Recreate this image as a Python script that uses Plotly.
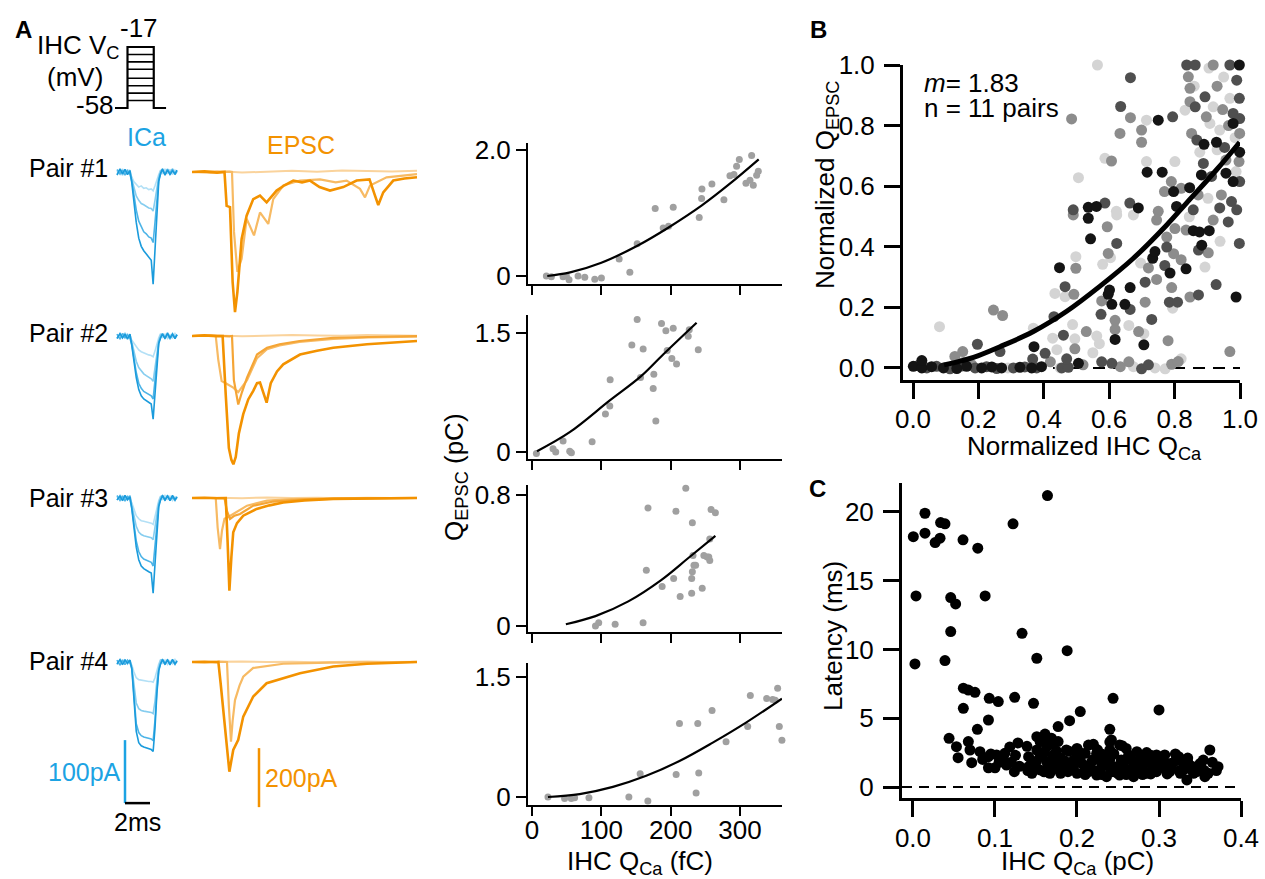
import plotly.graph_objects as go

W, H = 1265, 879
FONT = "Liberation Sans, Arial, Helvetica, sans-serif"

# ======================= DATA =======================
# Voltage protocol (ms, mV)
PROTO_T_ON, PROTO_T_OFF, PROTO_T_END = 1.0, 3.1, 4.1
PROTO_HOLD = -58
PROTO_LEVELS = [-17, -22, -27, -32, -38, -43, -48, -53]

# ICa traces (time in ms, current in pA); 4 traces per pair, light -> dark
ICA_T = [0.16, 0.4, 0.6, 0.8, 1.0, 1.2, 1.35, 1.5, 1.7, 1.9, 2.1, 2.3, 2.5, 2.7,
         2.9, 3.05, 3.2, 3.35, 3.5, 3.65, 3.8, 4.0, 4.2, 4.4, 4.6, 4.8, 4.96]
ICA_P1 = [
    [2, -4, 5, -3, 4, -2, -8, -15, -20, -24, -22, -26, -25, -28, -27, -30, -22, -12, -4, 3, -2, 5, -3, 4, -4, 3, 0],
    [-3, 4, -5, 3, -2, 3, -12, -25, -38, -45, -50, -52, -55, -57, -58, -62, -45, -25, -8, 2, 4, -3, 5, -4, 3, -3, 2],
    [4, -3, 3, -5, 2, -4, -15, -35, -60, -78, -88, -95, -98, -103, -105, -112, -80, -40, -12, -3, 3, -4, 4, -2, 5, -4, 1],
    [-5, 5, -3, 4, -4, 2, -18, -45, -80, -105, -118, -125, -130, -135, -140, -178, -120, -55, -15, -2, 5, -5, 3, -4, 2, -3, 3],
]
ICA_P2 = [
    [3, -4, 4, -2, 3, -3, -6, -12, -18, -22, -25, -27, -28, -30, -31, -33, -24, -12, -3, 4, -2, 3, -4, 2, -3, 4, 0],
    [-4, 3, -2, 5, -3, 2, -10, -25, -40, -50, -56, -60, -63, -66, -68, -72, -52, -28, -8, 2, 3, -4, 2, -3, 4, -2, 1],
    [3, -5, 4, -3, 2, -4, -14, -35, -58, -75, -83, -88, -90, -93, -95, -100, -72, -38, -10, -2, 4, -3, 3, -5, 2, -3, 2],
    [-4, 4, -3, 3, -5, 3, -16, -40, -66, -85, -95, -100, -103, -106, -108, -132, -90, -45, -12, -3, 3, -4, 5, -3, 3, -4, 2],
]
ICA_P3 = [
    [2, -3, 4, -4, 3, -2, -8, -18, -28, -33, -36, -37, -38, -39, -40, -42, -30, -15, -4, 3, -3, 4, -2, 3, -4, 2, 0],
    [-3, 4, -3, 3, -2, 4, -12, -28, -45, -54, -58, -60, -61, -62, -63, -66, -48, -25, -7, 2, 4, -3, 3, -4, 3, -2, 1],
    [4, -4, 3, -5, 3, -3, -16, -40, -68, -85, -93, -97, -99, -101, -102, -108, -78, -40, -11, -2, 3, -4, 4, -3, 2, -4, 2],
    [-3, 3, -4, 4, -3, 2, -18, -46, -78, -98, -108, -112, -115, -117, -119, -151, -105, -50, -14, -3, 4, -3, 3, -4, 4, -3, 1],
]
ICA_P4 = [
    [3, -4, 4, -3, 2, -3, -5, -15, -25, -28, -29, -30, -30, -31, -31, -32, -25, -12, -3, 4, -3, 3, -4, 2, -3, 4, 0],
    [-4, 3, -3, 4, -3, 3, -8, -35, -65, -74, -77, -78, -79, -80, -80, -82, -62, -30, -8, 3, 4, -3, 2, -4, 3, -2, 1],
    [3, -5, 3, -4, 3, -2, -10, -50, -98, -112, -117, -119, -120, -121, -122, -125, -92, -45, -12, -2, 3, -4, 4, -3, 2, -4, 2],
    [-3, 4, -4, 3, -2, 3, -12, -55, -110, -128, -133, -135, -136, -138, -139, -142, -105, -50, -14, -3, 4, -3, 3, -4, 4, -3, 1],
]

# EPSC traces (time in ms, current in pA)
FLAT_T = [0, 2, 4, 6, 8, 10, 12, 14, 16, 18]
P1_F_V = [0, 3, -2, 2, 4, 1, 5, 3, 2, 4]
P1_L_T = [0, 1.5, 3.0, 3.2, 3.36, 3.63, 3.97, 4.37, 4.96, 5.44, 6.1, 6.5, 7.3, 8.64, 10.24, 11.5, 12.37, 13.44, 13.84, 14.24, 15.57, 16.8, 18.0]
P1_L_V = [0, -2, 1, 0, -203, -339, -294, -158, -215, -137, -176, -92, -46, -29, -25, -35, -29, -57, -86, -46, -18, -12, -7]
P1_D_T = [0, 1.0, 2.0, 2.6, 2.77, 3.04, 3.25, 3.44, 3.63, 3.97, 4.37, 4.9, 5.44, 5.97, 6.77, 7.4, 8.1, 8.8, 9.44, 10.2, 11.04, 12.1, 13.17, 14.2, 14.64, 14.9, 15.3, 16.1, 17.0, 18.0]
P1_D_V = [0, 2, -2, 0, -115, -119, -373, -475, -407, -227, -148, -92, -80, -103, -63, -45, -29, -35, -29, -51, -63, -51, -29, -25, -80, -112, -69, -29, -22, -18]

P2_F_V = [0, 2, -1, 1, 3, 2, 1, 3, 2, 1]
P2_L_T = [0, 1.5, 3.0, 3.2, 3.35, 3.7, 4.0, 4.4, 5.2, 6.0, 7.0, 8.6, 11.3, 14.0, 18.0]
P2_L_V = [0, 2, -1, 0, -150, -232, -190, -141, -63, -40, -28, -17, -6, -3, 0]
P2_M_T = [0, 1.0, 1.9, 2.1, 2.37, 2.7, 3.0, 3.3, 3.7, 4.4, 5.2, 6.0, 7.0, 8.6, 11.3, 14.0, 18.0]
P2_M_V = [0, -1, 0, -80, -153, -160, -168, -175, -190, -150, -75, -45, -32, -20, -10, -5, -2]
P2_D_T = [0, 1.0, 2.0, 2.45, 2.7, 2.95, 3.15, 3.31, 3.5, 3.75, 4.1, 4.5, 4.9, 5.2, 5.44, 5.75, 5.97, 6.3, 6.8, 7.3, 8.64, 10.0, 11.3, 14.0, 16.0, 18.0]
P2_D_V = [0, 2, -1, 0, -200, -380, -420, -435, -410, -330, -265, -215, -186, -160, -158, -200, -226, -160, -120, -96, -63, -50, -40, -28, -22, -17]

P3_F_V = [0, 1, -1, 2, 0, 1, -1, 1, 0, 1]
P3_L_T = [0, 1.0, 1.9, 2.05, 2.24, 2.4, 2.6, 3.0, 3.5, 4.4, 6.0, 8.0, 11.0, 14.0, 18.0]
P3_L_V = [0, -1, 0, -100, -173, -110, -70, -62, -50, -26, -9, -4, -2, 0, 0]
P3_M_T = [0, 1.0, 2.0, 2.6, 2.8, 3.04, 3.4, 3.84, 4.9, 6.5, 9.0, 12.0, 18.0]
P3_M_V = [0, 1, 0, 0, -45, -71, -60, -54, -26, -12, -5, -2, 0]
P3_D_T = [0, 1.0, 2.0, 2.7, 2.85, 2.99, 3.15, 3.3, 3.6, 4.1, 5.17, 6.2, 7.3, 9.0, 11.3, 14.0, 18.0]
P3_D_V = [0, 1, -1, 0, -150, -314, -200, -116, -85, -60, -37, -25, -15, -8, -3, -1, 0]

P4_F_V = [0, 1, 2, 0, 1, -1, 1, 2, 0, 1]
P4_L_T = [0, 1.0, 2.0, 2.8, 2.95, 3.12, 3.25, 3.44, 3.8, 4.1, 4.9, 7.3, 11.0, 18.0]
P4_L_V = [0, -1, 1, 0, -150, -270, -200, -129, -80, -50, -20, -6, -2, 0]
P4_D_T = [0, 1.0, 2.0, 2.11, 2.29, 2.64, 2.99, 3.3, 3.7, 4.1, 4.9, 5.97, 7.3, 8.64, 11.3, 14.0, 18.0]
P4_D_V = [0, 1, -1, 0, -72, -219, -372, -298, -264, -185, -117, -72, -55, -38, -15, -6, 0]

# Scale bars
SCALE_ICA_PA = 100
SCALE_EPSC_PA = 200
SCALE_MS = 2

# Panel A scatter: IHC QCa (fC) vs QEPSC (pC), with fits
Q1_X = [20.7, 27.9, 44.8, 49.6, 53.4, 66.4, 76.1, 90.5, 100.1, 125.7, 141.1, 151.7, 177.7, 189.2, 196.9, 203.7, 241.2, 244.6, 245.1, 259.5, 276.8, 285.5, 291.3, 295.1, 299.0, 302.4, 308.6, 314.4, 316.8, 319.2, 324.0, 326.4]
Q1_Y = [0.0, -0.01, -0.01, 0.0, -0.06, 0.0, -0.02, -0.05, -0.03, 0.27, 0.06, 0.51, 1.07, 0.76, 0.79, 1.09, 0.93, 1.23, 1.38, 1.46, 1.21, 1.59, 1.61, 1.74, 1.85, 2.13, 1.47, 1.52, 1.91, 1.44, 1.60, 1.66]
Q1_FIT_X = [22, 55, 100, 152, 197, 245, 285, 327]
Q1_FIT_Y = [0.0, 0.057, 0.21, 0.48, 0.77, 1.12, 1.46, 1.85]

Q2_X = [6.3, 30.3, 34.2, 44.8, 54.4, 56.8, 86.7, 105.9, 112.2, 112.7, 144.0, 151.7, 156.5, 160.3, 174.8, 175.7, 178.6, 186.8, 193.1, 195.0, 201.7, 203.7, 208.5, 221.0, 225.3, 226.8, 239.8]
Q2_Y = [-0.02, 0.04, 0.0, 0.14, 0.01, -0.01, 0.13, 0.48, 0.58, 0.91, 1.35, 1.67, 0.94, 1.30, 0.80, 0.98, 0.39, 1.62, 1.53, 1.28, 1.18, 1.56, 1.11, 1.74, 1.46, 1.54, 1.29]
Q2_FIT_X = [7.2, 54.4, 112.2, 156.5, 189.2, 237.4]
Q2_FIT_Y = [0.01, 0.25, 0.65, 0.95, 1.23, 1.63]

Q3_X = [91.5, 96.2, 119.9, 160.2, 164.9, 167.3, 187.7, 204.3, 207.6, 213.7, 221.8, 230.3, 230.3, 231.3, 231.3, 232.2, 233.6, 236.0, 245.5, 247.9, 252.6, 255.0, 256.4, 256.4, 258.3, 264.5]
Q3_Y = [0.0, 0.02, 0.01, 0.02, 0.34, 0.72, 0.24, 0.29, 0.70, 0.18, 0.84, 0.20, 0.29, 0.33, 0.63, 0.43, 0.37, 0.37, 0.23, 0.43, 0.42, 0.42, 0.40, 0.53, 0.71, 0.69]
Q3_FIT_X = [48.8, 91.5, 138.9, 186.3, 224.2, 264.5]
Q3_FIT_Y = [0.01, 0.06, 0.15, 0.28, 0.41, 0.55]

Q4_X = [23.0, 47.0, 56.6, 61.4, 82.1, 139.7, 156.0, 167.1, 207.9, 212.7, 236.7, 239.1, 240.5, 259.7, 279.9, 311.1, 312.5, 314.9, 338.5, 347.1, 350.9, 354.3, 356.7, 360.5, 361.5]
Q4_Y = [0.0, -0.02, -0.02, -0.01, -0.01, 0.0, 0.29, -0.05, 0.28, 0.92, 0.05, 0.92, 0.30, 1.08, 0.69, 0.88, 1.69, 1.27, 1.23, 1.22, 1.21, 1.36, 0.88, 0.71, 1.04]
Q4_FIT_X = [23.0, 68.7, 116.7, 164.7, 212.7, 260.7, 308.7, 360.5]
Q4_FIT_Y = [0.0, 0.037, 0.127, 0.265, 0.45, 0.68, 0.93, 1.23]

# Panel B: normalized data, grouped by gray level of the pair
B_LIGHT_X = [0.564, 0.714, 0.587, 0.506, 0.714, 0.801, 0.832, 0.918, 0.969, 0.908, 0.938, 0.877, 0.988, 0.902, 0.622, 0.623, 0.674, 0.604, 0.580, 0.498, 0.434, 0.465, 0.081, 0.368, 0.488, 0.427, 0.495, 0.674, 0.771, 0.562, 0.706, 0.794, 0.893, 0.696, 0.939, 0.845, 0.29, 0.45, 0.905, 0.985,
             0.44, 0.55, 0.57, 0.66, 0.74, 0.82, 0.95, 0.86, 0.93]
B_LIGHT_Y = [1.0, 0.818, 0.692, 0.628, 0.681, 0.681, 0.851, 0.862, 0.890, 0.807, 0.785, 0.712, 0.648, 0.560, 0.517, 0.505, 0.505, 0.364, 0.342, 0.367, 0.246, 0.235, 0.136, 0.131, 0.143, 0.098, 0.096, 0.004, -0.003, 0.105, 0.113, 0.197, 0.333, 0.346, 0.418, 0.499, 0.0, 0.0, 0.99, 0.76,
             0.06, 0.05, 0.08, 0.14, 0.0, 0.03, 0.96, 0.93, 0.72]
B_MID_X = [0.485, 0.665, 0.633, 0.699, 0.699, 0.607, 0.918, 0.842, 0.847, 0.847, 0.947, 0.897, 0.999, 0.852, 0.957, 0.997, 0.790, 0.769, 0.820, 0.872, 0.943, 0.750, 0.490, 0.594, 0.597, 0.498, 0.492, 0.246, 0.274, 0.495, 0.152, 0.128, 0.634, 0.791, 0.811, 0.969, 0.618, 0.618, 0.577, 0.710, 0.745, 0.791, 0.847, 0.820, 0.797, 0.720, 0.776, 0.801, 0.835, 0.903, 0.918, 0.745, 0.154, 0.18,
           0.42, 0.52, 0.53, 0.66, 0.69, 0.78, 0.93, 0.965]
B_MID_Y = [0.822, 0.826, 0.774, 0.785, 0.745, 0.683, 1.0, 0.961, 0.923, 0.879, 0.853, 0.829, 0.774, 0.774, 0.686, 0.681, 0.615, 0.582, 0.593, 0.571, 0.571, 0.517, 0.505, 0.466, 0.378, 0.329, 0.243, 0.191, 0.173, 0.063, 0.054, 0.038, 0.004, 0.012, 0.021, 0.054, 0.127, 0.157, 0.221, 0.217, 0.292, 0.265, 0.234, 0.357, 0.377, 0.330, 0.432, 0.460, 0.455, 0.380, 0.488, 0.488, 0.018, 0.01,
           0.02, 0.01, 0.12, 0.02, 0.12, 0.09, 0.93, 0.80]
B_DARK_X = [0.665, 0.635, 0.794, 0.837, 0.863, 0.969, 0.893, 0.863, 0.998, 0.979, 0.999, 0.868, 0.953, 0.888, 0.913, 0.999, 0.974, 0.490, 0.587, 0.663, 0.857, 0.938, 0.990, 0.623, 0.465, 0.431, 0.404, 0.460, 0.197, 0.266, 0.577, 0.608, 0.699, 0.575, 0.664, 0.710, 0.784, 0.809, 0.873, 0.927, 0.770, 0.776, 0.873, 0.998, 0.964, 0.366, 0.455,
              0.016, 0.042, 0.072, 0.113, 0.149, 0.190, 0.225, 0.256, 0.307, 0.342, 0.378, 0.475, 0.47, 0.72, 0.73, 0.99]
B_DARK_Y = [0.958, 0.863, 0.829, 1.0, 1.0, 1.0, 0.895, 0.862, 0.890, 0.840, 0.823, 0.752, 0.728, 0.675, 0.632, 0.615, 0.549, 0.522, 0.544, 0.544, 0.522, 0.528, 0.522, 0.411, 0.268, 0.169, 0.048, 0.108, 0.078, 0.054, 0.020, 0.015, -0.003, 0.177, 0.193, 0.283, 0.217, 0.217, 0.241, 0.275, 0.338, 0.399, 0.389, 0.411, 0.482, 0.029, 0.0,
              0.008, 0.0, 0.005, -0.003, 0.006, 0.0, 0.004, -0.002, 0.0, 0.003, 0.0, 0.002, 0.03, 0.01, 0.16, 0.95]
B_BLACK_X = [0.750, 0.998, 0.979, 0.890, 0.928, 0.999, 0.882, 0.957, 0.979, 0.762, 0.797, 0.846, 0.536, 0.561, 0.689, 0.806, 0.536, 0.543, 0.448, 0.370, 0.506, 0.618, 0.608, 0.648, 0.706, 0.597, 0.601, 0.664, 0.988, 0.786, 0.835, 0.733, 0.740, 0.857, 0.876, 0.906, 0.883, 0.716,
               0.001, 0.027, 0.057, 0.093, 0.134, 0.164, 0.210, 0.241, 0.271, 0.327, 0.363, 0.393, 0.027]
B_BLACK_Y = [0.818, 1.0, 0.807, 0.738, 0.745, 0.712, 0.637, 0.643, 0.615, 0.646, 0.582, 0.595, 0.530, 0.533, 0.528, 0.533, 0.494, 0.426, 0.331, 0.070, 0.015, 0.094, 0.210, 0.210, 0.076, 0.243, 0.257, 0.265, 0.234, 0.313, 0.327, 0.362, 0.384, 0.453, 0.449, 0.453, 0.405, 0.646,
               0.005, 0.0, 0.004, 0.0, -0.002, 0.005, 0.0, 0.003, 0.0, 0.002, 0.0, 0.004, 0.024]
B_FIT_X = [0.095, 0.185, 0.266, 0.368, 0.470, 0.572, 0.674, 0.776, 0.837, 0.929, 0.999]
B_FIT_Y = [0.010, 0.035, 0.070, 0.120, 0.187, 0.270, 0.362, 0.472, 0.545, 0.655, 0.745]
B_EXPONENT = "1.83"
B_NPAIRS = "11"

# Panel C: latency (ms) vs IHC QCa (pC)
C_X = [0.164, 0.0146, 0.0004, 0.0146, 0.027, 0.033, 0.0337, 0.039, 0.061, 0.079, 0.122, 0.0037, 0.046, 0.052, 0.088, 0.046, 0.133, 0.188,
       0.0024, 0.039, 0.151, 0.0614, 0.0675, 0.0756, 0.0614, 0.093, 0.104, 0.124, 0.147, 0.244, 0.300, 0.092, 0.0785, 0.204, 0.191, 0.177, 0.240,
       0.044, 0.053, 0.055, 0.0675, 0.0695, 0.0716, 0.0817, 0.092, 0.092, 0.102, 0.112, 0.114, 0.1236, 0.128, 0.139, 0.151, 0.161, 0.169, 0.177,
       0.163, 0.151, 0.141, 0.147, 0.155, 0.163, 0.171, 0.179, 0.187, 0.189, 0.196, 0.206, 0.214, 0.214, 0.224, 0.224, 0.232, 0.240, 0.242, 0.244,
       0.252, 0.254, 0.263, 0.265, 0.273, 0.277, 0.285, 0.287, 0.297, 0.297, 0.307, 0.309, 0.315, 0.324, 0.326, 0.334, 0.338, 0.346, 0.354, 0.356,
       0.362, 0.372, 0.167, 0.175, 0.200, 0.210, 0.228, 0.236, 0.248, 0.261, 0.269, 0.281, 0.293, 0.303, 0.313, 0.330, 0.342, 0.352, 0.141, 0.145,
       0.236, 0.218, 0.202, 0.269, 0.252, 0.228, 0.240, 0.255, 0.19, 0.21, 0.23, 0.25, 0.27, 0.29, 0.31, 0.32, 0.20, 0.22, 0.26, 0.28, 0.30, 0.17,
       0.16, 0.18, 0.34, 0.355, 0.365, 0.15, 0.24, 0.26, 0.22, 0.20, 0.28, 0.31, 0.33, 0.12, 0.11, 0.13, 0.10, 0.085, 0.155, 0.16, 0.17,
       0.145, 0.155, 0.165, 0.175, 0.185, 0.195, 0.205, 0.215, 0.225, 0.235, 0.245, 0.255, 0.265, 0.275, 0.285, 0.295, 0.305, 0.315, 0.325, 0.335,
       0.345, 0.36, 0.18, 0.19, 0.21, 0.23, 0.25, 0.27, 0.29, 0.31, 0.22, 0.23, 0.26, 0.28, 0.30, 0.16, 0.17, 0.20, 0.24, 0.26, 0.14, 0.125,
       0.105, 0.095, 0.118, 0.29, 0.32, 0.335, 0.35, 0.37]
C_Y = [21.19, 19.9, 18.2, 18.45, 17.77, 18.09, 19.22, 19.13, 17.97, 17.36, 19.13, 13.89, 13.77, 13.31, 13.89, 11.3, 11.17, 9.91,
       8.95, 9.19, 9.36, 7.18, 7.05, 6.88, 5.72, 6.45, 6.21, 6.52, 6.08, 6.45, 5.60, 4.87, 4.19, 5.48, 4.82, 4.39, 4.19,
       3.54, 2.93, 2.13, 3.30, 2.69, 1.77, 2.57, 2.2, 1.4, 2.33, 2.45, 1.6, 1.11, 3.2, 2.96, 3.66, 3.85, 3.54, 3.30,
       2.93, 2.69, 2.2, 1.6, 1.24, 1.84, 2.33, 1.48, 2.69, 1.11, 1.96, 1.72, 3.05, 1.11, 2.45, 0.87, 1.6, 2.69, 3.42, 1.11,
       3.05, 1.96, 2.33, 1.0, 2.57, 1.48, 1.0, 1.96, 2.33, 1.11, 2.33, 1.24, 1.72, 2.2, 1.0, 0.51, 1.36, 1.11, 1.96, 0.75,
       2.69, 1.48, 1.0, 1.72, 1.0, 2.45, 2.08, 0.75, 1.48, 1.24, 1.72, 2.2, 1.48, 1.72, 1.11, 1.24, 1.0, 1.36, 1.48, 1.0,
       2.2, 1.84, 2.57, 0.75, 0.87, 1.24, 3.27, 3.0, 1.5, 1.3, 1.7, 1.2, 1.3, 1.7, 1.5, 1.9, 2.2, 2.0, 2.0, 2.1, 2.0, 1.3,
       2.5, 2.1, 1.5, 1.2, 1.8, 1.8, 1.4, 0.9, 1.2, 1.8, 0.9, 0.95, 1.7, 1.8, 2.0, 1.5, 1.4, 2.0, 3.3, 3.5, 3.1,
       1.9, 2.2, 1.6, 2.6, 1.9, 1.3, 2.3, 1.5, 2.7, 1.9, 2.4, 1.6, 2.2, 1.9, 2.5, 1.8, 2.1, 1.4, 1.2, 1.8,
       1.4, 1.0, 1.0, 2.6, 0.9, 0.9, 1.0, 1.1, 0.95, 1.2, 3.1, 2.4, 2.8, 1.5, 1.4, 1.1, 2.0, 2.8, 2.0, 1.3, 1.2, 2.3,
       1.8, 2.4, 2.9, 2.3, 2.4, 2.1, 1.7, 1.2]

# ======================= LAYOUT HELPERS =======================
def fx(px):
    return px / W

def fy(py):
    return 1 - py / H

BLUE = "#1CA3E3"
BLUES = ["#B3E0F6", "#86CDEF", "#4DB4E7", "#1A9BDC"]
ORANGE = "#F39200"
OR_FLAT, OR_LIGHT, OR_MID, OR_DARK = "#FAD39C", "#F7BA63", "#F5A535", "#F39200"
GRAY_PT = "#A0A0A0"

fig = go.Figure()
layout = dict(
    width=W, height=H, autosize=False,
    margin=dict(l=0, r=0, t=0, b=0, pad=0, autoexpand=False),
    paper_bgcolor="white", plot_bgcolor="rgba(0,0,0,0)", showlegend=False,
    font=dict(family=FONT, size=26, color="black"),
)

def hidden(dom, rng, anchor):
    return dict(domain=dom, range=rng, visible=False, fixedrange=True, anchor=anchor)

def vis(dom, rng, anchor, tickvals, ticktext, lw, tl, tw, standoff=3, labels=True):
    d = dict(domain=dom, range=rng, anchor=anchor, showline=True, linecolor="black", linewidth=lw,
             ticks="outside", ticklen=tl, tickwidth=tw, tickcolor="black", showgrid=False,
             zeroline=False, tickvals=tickvals, ticktext=ticktext, showticklabels=labels,
             tickfont=dict(family=FONT, size=26, color="black"), fixedrange=True,
             ticklabelstandoff=standoff, automargin=False)
    return d

# --- protocol axis (1)
layout["xaxis"] = hidden([fx(115), fx(166.25)], [0, 4.1], "y")
layout["yaxis"] = hidden([fy(115), fy(40)], [-62.7, -12.3], "x")
fig.add_trace(go.Scatter(x=[0, PROTO_T_ON, PROTO_T_ON, PROTO_T_OFF, PROTO_T_OFF, PROTO_T_END],
                         y=[PROTO_HOLD, PROTO_HOLD, PROTO_LEVELS[0], PROTO_LEVELS[0], PROTO_HOLD, PROTO_HOLD],
                         mode="lines", line=dict(color="black", width=2.2), xaxis="x", yaxis="y"))
for v in PROTO_LEVELS[1:]:
    fig.add_trace(go.Scatter(x=[PROTO_T_ON, PROTO_T_OFF], y=[v, v], mode="lines",
                             line=dict(color="black", width=1.6), xaxis="x", yaxis="y"))

# --- traces rows
BASE = [172, 336, 498, 662]
ICA_PX_PER_PA = 0.63
EPSC_PX_PER_PA = 0.295
ICA_SETS = [ICA_P1, ICA_P2, ICA_P3, ICA_P4]
EPSC_SETS = [
    [(FLAT_T, P1_F_V, OR_FLAT, 2), (P1_L_T, P1_L_V, OR_LIGHT, 2.2), (P1_D_T, P1_D_V, OR_DARK, 2.6)],
    [(FLAT_T, P2_F_V, OR_FLAT, 2), (P2_M_T, P2_M_V, OR_LIGHT, 2.2), (P2_L_T, P2_L_V, OR_MID, 2.2), (P2_D_T, P2_D_V, OR_DARK, 2.6)],
    [(FLAT_T, P3_F_V, OR_FLAT, 2), (P3_L_T, P3_L_V, OR_LIGHT, 2.2), (P3_M_T, P3_M_V, OR_MID, 2.2), (P3_D_T, P3_D_V, OR_DARK, 2.6)],
    [(FLAT_T, P4_F_V, OR_FLAT, 2), (P4_L_T, P4_L_V, OR_LIGHT, 2.2), (P4_D_T, P4_D_V, OR_DARK, 2.6)],
]
for r in range(4):
    b = BASE[r]
    ia, ea = r + 2, r + 6
    layout[f"xaxis{ia}"] = hidden([fx(115), fx(180)], [0, 65 / 12.5], f"y{ia}")
    layout[f"yaxis{ia}"] = hidden([fy(b + 150), fy(b - 20)], [-150 / ICA_PX_PER_PA, 20 / ICA_PX_PER_PA], f"x{ia}")
    layout[f"xaxis{ea}"] = hidden([fx(192), fx(420)], [0, 228 / 12.5], f"y{ea}")
    layout[f"yaxis{ea}"] = hidden([fy(b + 150), fy(b - 20)], [-150 / EPSC_PX_PER_PA, 20 / EPSC_PX_PER_PA], f"x{ea}")
    for k, vals in enumerate(ICA_SETS[r]):
        fig.add_trace(go.Scatter(x=ICA_T, y=vals, mode="lines", line=dict(color=BLUES[k], width=1.6),
                                 xaxis=f"x{ia}", yaxis=f"y{ia}"))
    for t, v, c, w in EPSC_SETS[r]:
        fig.add_trace(go.Scatter(x=t, y=v, mode="lines", line=dict(color=c, width=w),
                                 xaxis=f"x{ea}", yaxis=f"y{ea}"))

# scale bars (row 4 axes)
shapes = []
sb_t0 = 0.8
sb_top = -124
shapes.append(dict(type="line", xref="x5", yref="y5", x0=sb_t0, x1=sb_t0, y0=sb_top, y1=sb_top - SCALE_ICA_PA,
                   line=dict(color=BLUE, width=2.5)))
shapes.append(dict(type="line", xref="x5", yref="y5", x0=sb_t0, x1=sb_t0 + SCALE_MS, y0=sb_top - SCALE_ICA_PA,
                   y1=sb_top - SCALE_ICA_PA, line=dict(color="black", width=2.5)))
shapes.append(dict(type="line", xref="x9", yref="y9", x0=5.36, x1=5.36, y0=-292, y1=-292 - SCALE_EPSC_PA,
                   line=dict(color=ORANGE, width=2.5)))

# --- small scatter plots (10-13)
Q_SETS = [
    (Q1_X, Q1_Y, Q1_FIT_X, Q1_FIT_Y, 284, 143, [-0.127, 2.11], [0, 2.0], ["0", "2.0"]),
    (Q2_X, Q2_Y, Q2_FIT_X, Q2_FIT_Y, 459, 315, [-0.088, 1.727], [0, 1.5], ["0", "1.5"]),
    (Q3_X, Q3_Y, Q3_FIT_X, Q3_FIT_Y, 632, 485, [-0.037, 0.86], [0, 0.8], ["0", "0.8"]),
    (Q4_X, Q4_Y, Q4_FIT_X, Q4_FIT_Y, 805, 663, [-0.1, 1.675], [0, 1.5], ["0", "1.5"]),
]
for i, (qx, qy, fxs, fys, pb, pt, yr, tv, tt) in enumerate(Q_SETS):
    a = 10 + i
    layout[f"xaxis{a}"] = vis([fx(528), fx(782)], [-5.8, 360.6], f"y{a}", [0, 100, 200, 300],
                              ["0", "100", "200", "300"], 2, 9, 2, standoff=-8, labels=(i == 3))
    layout[f"yaxis{a}"] = vis([fy(pb), fy(pt)], yr, f"x{a}", tv, tt, 2, 10, 2, standoff=0)
    fig.add_trace(go.Scatter(x=qx, y=qy, mode="markers", marker=dict(color=GRAY_PT, size=7),
                             xaxis=f"x{a}", yaxis=f"y{a}", cliponaxis=False))
    fig.add_trace(go.Scatter(x=fxs, y=fys, mode="lines", line=dict(color="black", width=2.2, shape="spline"),
                             xaxis=f"x{a}", yaxis=f"y{a}"))

# --- Panel B (14)
layout["xaxis14"] = vis([fx(903), fx(1240)], [-0.0306, 1.0], "y14", [0, 0.2, 0.4, 0.6, 0.8, 1.0],
                        ["0.0", "0.2", "0.4", "0.6", "0.8", "1.0"], 3, 16, 3, standoff=-2)
layout["yaxis14"] = vis([fy(380), fy(65)], [-0.04, 1.0], "x14", [0, 0.2, 0.4, 0.6, 0.8, 1.0],
                        ["0.0", "0.2", "0.4", "0.6", "0.8", "1.0"], 3, 16, 3, standoff=4)
fig.add_trace(go.Scatter(x=[0, 1.0], y=[0, 0], mode="lines", line=dict(color="black", width=2, dash="12px,8px"),
                         xaxis="x14", yaxis="y14"))
for xs, ys, col in [(B_LIGHT_X, B_LIGHT_Y, "#D4D4D4"), (B_MID_X, B_MID_Y, "#8C8C8C"),
                    (B_DARK_X, B_DARK_Y, "#4F4F4F"), (B_BLACK_X, B_BLACK_Y, "#141414")]:
    fig.add_trace(go.Scatter(x=xs, y=ys, mode="markers", marker=dict(color=col, size=11),
                             xaxis="x14", yaxis="y14", cliponaxis=False))
fig.add_trace(go.Scatter(x=B_FIT_X, y=B_FIT_Y, mode="lines", line=dict(color="black", width=5, shape="spline"),
                         xaxis="x14", yaxis="y14"))

# --- Panel C (15)
layout["xaxis15"] = vis([fx(902), fx(1241)], [-0.0134, 0.4], "y15", [0, 0.1, 0.2, 0.3, 0.4],
                        ["0.0", "0.1", "0.2", "0.3", "0.4"], 3, 16, 3, standoff=-1)
layout["yaxis15"] = vis([fy(798), fy(483)], [-0.8, 22.1], "x15", [0, 5, 10, 15, 20],
                        ["0", "5", "10", "15", "20"], 3, 16, 3, standoff=4)
shapes.append(dict(type="line", xref="paper", yref="y15", x0=fx(885), x1=fx(1238), y0=0, y1=0,
                   line=dict(color="black", width=2, dash="10px,7px"), layer="below"))
fig.add_trace(go.Scatter(x=C_X, y=C_Y, mode="markers", marker=dict(color="black", size=11),
                         xaxis="x15", yaxis="y15", cliponaxis=False))

# ======================= TEXT =======================
ann = []

def text(t, x, y, size=26, color="black", xa="center", ya="middle", angle=0):
    ann.append(dict(text=t, x=fx(x), y=fy(y), xref="paper", yref="paper", showarrow=False,
                    xanchor=xa, yanchor=ya, textangle=angle,
                    font=dict(family=FONT, size=size, color=color)))

text("<b>A</b>", 23, 30, size=24)
text("<b>B</b>", 818, 29, size=24)
text("<b>C</b>", 817, 488, size=24)

text("IHC V<sub>C</sub>", 35, 46, xa="left")
text("(mV)", 75, 77)
text(str(PROTO_LEVELS[0]), 139, 28)
text(str(PROTO_HOLD), 95, 105)

text("ICa", 146, 137, size=25, color=BLUE)
text("EPSC", 301, 145, size=25, color=ORANGE)
for r, yy in enumerate([168, 333, 498, 661]):
    text(f"Pair #{r + 1}", 110, yy, size=25, xa="right")

text(f"{SCALE_ICA_PA}pA", 123, 772, size=25, color=BLUE, xa="right")
text(f"{SCALE_EPSC_PA}pA", 263, 778, size=25, color=ORANGE, xa="left")
text(f"{SCALE_MS}ms", 137, 822, size=25)

text("IHC Q<sub>Ca</sub> (fC)", 640, 862)
text("Q<sub>EPSC</sub> (pC)", 455, 477, angle=-90)

text("Normalized IHC Q<sub>Ca</sub>", 1084, 447)
text("Normalized Q<sub>EPSC</sub>", 826, 185, angle=-90)
text(f"<i>m</i>= {B_EXPONENT}", 922, 83, xa="left")
text(f"n = {B_NPAIRS} pairs", 922, 108, xa="left")

text("IHC Q<sub>Ca</sub> (pC)", 1077, 862)
text("Latency (ms)", 833, 636, angle=-90)

layout["annotations"] = ann
layout["shapes"] = shapes
fig.update_layout(**layout)
fig.write_html("out.html", config={"displayModeBar": False, "staticPlot": True},
               post_script="document.documentElement.style.margin='0';document.body.style.margin='0';"
                           "document.body.style.overflow='hidden';")
